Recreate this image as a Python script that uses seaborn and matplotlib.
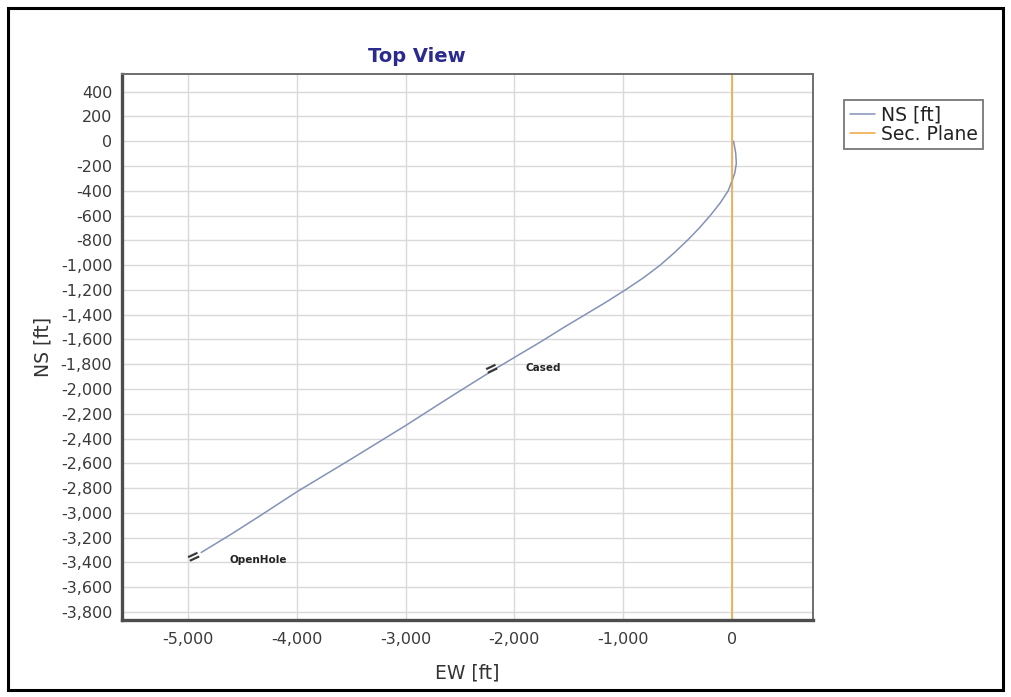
import matplotlib
matplotlib.use("Agg")
import matplotlib.pyplot as plt
from matplotlib.ticker import FuncFormatter
from matplotlib.patches import Rectangle
import seaborn as sns
import pandas as pd

# ---- data ----
ew_ft = [15, 35, 40, 25, 0, -35, -110, -200, -300, -410, -530, -660, -810,
         -980, -1160, -1350, -1550, -1760, -2000, -2200, -2600, -3000, -3500,
         -4000, -4350, -4600, -4880]
ns_ft = [0, -100, -180, -260, -320, -400, -500, -600, -700, -800, -900, -1000,
         -1100, -1200, -1300, -1400, -1505, -1620, -1745, -1850, -2070, -2295,
         -2565, -2830, -3030, -3170, -3320]
sec_plane_ew = [0, 0]
sec_plane_ns = [-3865, 543]
x_ticks = [-5000, -4000, -3000, -2000, -1000, 0]
y_ticks = list(range(-3800, 401, 200))
markers_ew = [-2210, -4950]
markers_ns = [-1840, -3360]
marker_labels = ["Cased", "OpenHole"]
label_ew = [-1900, -4620]
label_ns = [-1830, -3380]

traj = pd.DataFrame({"EW": ew_ft, "NS": ns_ft})
plane = pd.DataFrame({"EW": sec_plane_ew, "NS": sec_plane_ns})

sns.set_style("white")
plt.rcParams["font.family"] = ["DejaVu Sans"]
plt.rcParams["axes.unicode_minus"] = False

fig = plt.figure(figsize=(10.11, 6.97), dpi=100)
ax = fig.add_axes([122 / 1011, 1 - 620 / 697, (813 - 122) / 1011, (620 - 74) / 697])

sns.lineplot(data=traj, x="EW", y="NS", sort=False, estimator=None, ax=ax,
             color="#8592b8", linewidth=1.1, label="NS [ft]")
sns.lineplot(data=plane, x="EW", y="NS", sort=False, estimator=None, ax=ax,
             color="#eda63a", linewidth=1.1, label="Sec. Plane")

# casing markers
for mx, my in zip(markers_ew, markers_ns):
    ax.text(mx, my, "=", rotation=25, fontsize=12, fontweight="bold",
            color="#333333", ha="center", va="center")
for lx, ly, t in zip(label_ew, label_ns, marker_labels):
    ax.text(lx, ly, t, fontsize=7.5, fontweight="bold", color="#222222",
            ha="left", va="center")

ax.set_xlim(-5608, 745)
ax.set_ylim(-3865, 543)
ax.set_xticks(x_ticks)
ax.set_yticks(y_ticks)
fmt = FuncFormatter(lambda v, p: f"{int(round(v)):,}")
ax.xaxis.set_major_formatter(fmt)
ax.yaxis.set_major_formatter(fmt)
ax.tick_params(axis="both", length=0, labelsize=11.5, labelcolor="#3a3a3a")
ax.tick_params(axis="y", pad=7)
ax.tick_params(axis="x", pad=9)

ax.grid(True, color="#d9d9d9", linewidth=1.0)
ax.set_axisbelow(True)

for side in ["left", "bottom"]:
    ax.spines[side].set_color("#4d4d4d")
    ax.spines[side].set_linewidth(2.4)
for side in ["top", "right"]:
    ax.spines[side].set_color("#6e6e6e")
    ax.spines[side].set_linewidth(1.4)

ax.set_xlabel("EW [ft]", fontsize=13.5, color="#333333")
ax.set_ylabel("NS [ft]", fontsize=13.5, color="#333333")
ax.xaxis.set_label_coords(0.5, -0.079)
ax.yaxis.set_label_coords(-0.1, 0.5)

fig.text(417 / 1011, 1 - 57 / 697, "Top View", fontsize=14, fontweight="bold",
         color="#2b2b8f", ha="center", va="center")

handles, labels = ax.get_legend_handles_labels()
ax.get_legend().remove()
leg = fig.legend(handles, labels, loc="upper left", bbox_to_anchor=(844 / 1011, 1 - 100 / 697),
                 fontsize=13.5, frameon=True, fancybox=False, edgecolor="#555555",
                 handlelength=1.35, handletextpad=0.3, borderpad=0.3, labelspacing=0.0,
                 borderaxespad=0)
leg.get_frame().set_linewidth(1.3)
for t in leg.get_texts():
    t.set_color("#222222")

fig.patches.append(Rectangle((8 / 1011, 1 - 690 / 697), (1003 - 8) / 1011, (690 - 8) / 697,
                             transform=fig.transFigure, fill=False, edgecolor="black",
                             linewidth=2.2))

fig.savefig("out.png", dpi=100)
